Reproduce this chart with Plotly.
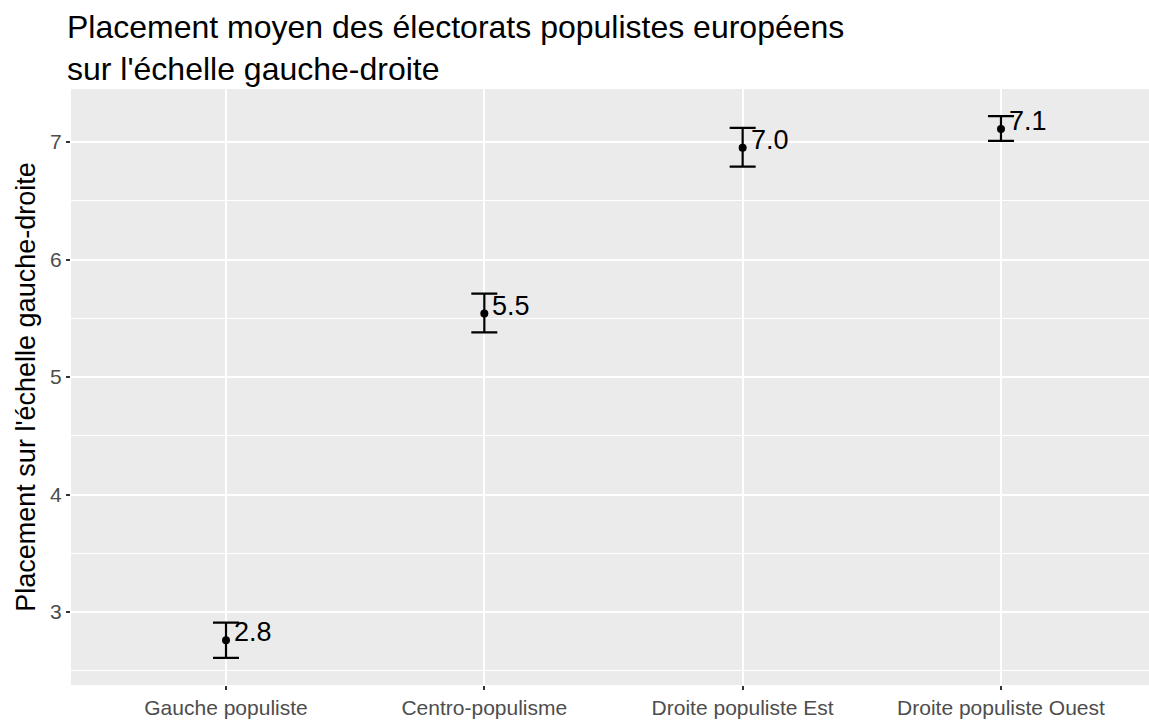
import plotly.graph_objects as go

# données
categories = ['Gauche populiste', 'Centro-populisme', 'Droite populiste Est', 'Droite populiste Ouest']
moyennes = [2.76, 5.54, 6.95, 7.11]
bornes_hautes = [2.91, 5.71, 7.12, 7.22]
bornes_basses = [2.61, 5.38, 6.79, 7.01]
etiquettes = ['2.8', '5.5', '7.0', '7.1']

err_plus = [h - m for h, m in zip(bornes_hautes, moyennes)]
err_moins = [m - b for m, b in zip(moyennes, bornes_basses)]

police = 'Liberation Sans, Arial, Helvetica, sans-serif'

fig = go.Figure()
fig.add_trace(go.Scatter(
    x=categories, y=moyennes, mode='markers',
    marker=dict(color='black', size=8),
    error_y=dict(type='data', symmetric=False, array=err_plus, arrayminus=err_moins,
                 color='black', thickness=2.2, width=13),
    showlegend=False,
))

# étiquettes des moyennes
for cat, m, lab in zip(categories, moyennes, etiquettes):
    fig.add_annotation(x=cat, y=m, text=lab, showarrow=False,
                       xanchor='left', yanchor='middle', xshift=6, yshift=8,
                       font=dict(family=police, size=27, color='black'))

fig.update_layout(
    width=1149, height=720,
    margin=dict(l=71, r=0, t=89, b=35),
    paper_bgcolor='white', plot_bgcolor='#EBEBEB',
    font=dict(family=police),
    title=dict(text="Placement moyen des électorats populistes européens<br>sur l'échelle gauche-droite",
               x=67 / 1149, xanchor='left', xref='container',
               y=1 - 38 / 720, yanchor='top', yref='container',
               font=dict(size=32, color='black')),
)
fig.update_xaxes(
    type='category', range=[-0.6, 3.573], automargin=False,
    showgrid=True, gridcolor='white', gridwidth=2.2,
    ticks='outside', ticklen=4, tickwidth=1.5, tickcolor='#333333',
    tickfont=dict(size=21, color='#4D4D4D'), zeroline=False, showline=False,
)
fig.update_yaxes(
    range=[2.379, 7.451], tickvals=[3, 4, 5, 6, 7], automargin=False,
    showgrid=True, gridcolor='white', gridwidth=2.2,
    minor=dict(tickvals=[2.5, 3.5, 4.5, 5.5, 6.5, 7.5], showgrid=True, gridcolor='white', gridwidth=1.1),
    ticks='outside', ticklen=4, tickwidth=1.5, tickcolor='#333333',
    tickfont=dict(size=21, color='#4D4D4D'), zeroline=False, showline=False,
    title=dict(text="Placement sur l'échelle gauche-droite", font=dict(size=27, color='black'), standoff=6),
)

# sans marge de page, le graphique occupe toute la fenêtre
fig.write_html('out.html', config={'displayModeBar': False},
               post_script="document.body.style.margin = '0px';")
